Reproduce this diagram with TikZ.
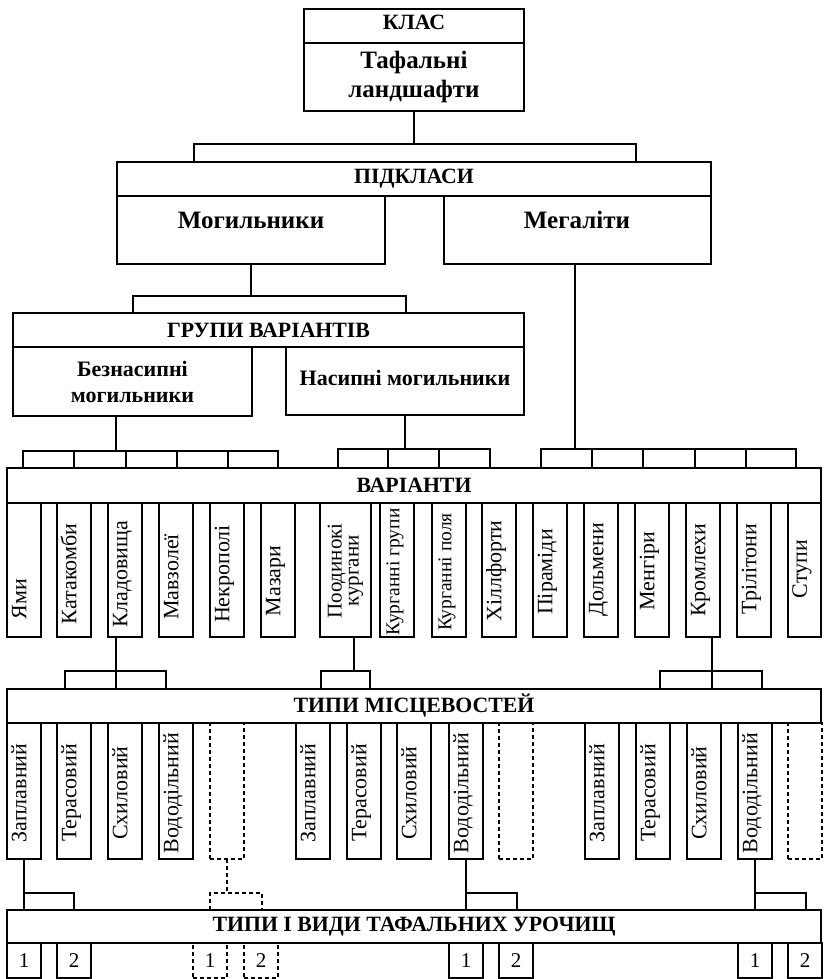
\documentclass[tikz,border=0pt]{standalone}
\usepackage{fontspec}
\setmainfont{Liberation Serif}
\tikzset{
  ln/.style={line width=1.1pt},
  dsh/.style={line width=1.1pt, dash pattern=on 4pt off 3pt},
  bx/.style={draw, line width=1.1pt, rectangle, inner sep=0pt, outer sep=0pt, anchor=north west},
  dbx/.style={bx, dash pattern=on 4pt off 3pt},
  hd/.style={font={\fontsize{21.8}{26}\selectfont\bfseries}},
  big/.style={font={\fontsize{25}{29}\selectfont\bfseries}},
  mid/.style={font={\fontsize{22}{26}\selectfont\bfseries}},
  vt/.style={font={\fontsize{22}{24}\selectfont}, text height=0.7em, text depth=0.25em, inner sep=0pt},
  vts/.style={font={\fontsize{19.5}{17}\selectfont}, text height=0.7em, text depth=0.25em, inner sep=0pt},
  vtt/.style={font={\fontsize{21}{17}\selectfont}, inner sep=0pt, align=center},
  num/.style={font={\fontsize{21}{24}\selectfont}},
}
\newcommand\vbx[6]{%
  \node[bx, minimum width={#3-#2}, minimum height=134] (#1) at (#2,503) {};
  \node[rotate=90, #5] (#1t) at ({(#2+#3)/2},#4) {#6};}
\newcommand\tbx[3]{%
  \node[bx, minimum width=34, minimum height=136] (#1) at (#2,723) {};
  \node[rotate=90, vt] (#1t) at ({#2+17},793) {#3};}
\newcommand\dtbx[2]{%
  \node[dbx, minimum width=34, minimum height=136] (#1) at (#2,723) {};}
\newcommand\nbx[4]{%
  \node[#3, num, minimum width=34, minimum height=35] (#1) at (#2,943) {#4};}
\begin{document}
\begin{tikzpicture}[x=1pt,y=-1pt]
\useasboundingbox (0,0) rectangle (827,979);
% class
\node[bx, hd, text height=14pt, text depth=7pt, minimum width=220, minimum height=34] (klass) at (304,9) {КЛАС};
\node[bx, big, align=center, minimum width=220, minimum height=68] (tafal) at (304,43) {Тафальні\\ландшафти};
% subclasses
\node[bx, hd, minimum width=594, minimum height=34] (pidk) at (117,162) {ПІДКЛАСИ};
\node[bx, minimum width=268, minimum height=68] (mog) at (117,196) {};
\node[big] (mogt) at (251,220) {Могильники};
\node[bx, minimum width=267, minimum height=68] (megal) at (444,196) {};
\node[big] (megalt) at (577,220) {Мегаліти};
% groups
\node[bx, hd, minimum width=511, minimum height=34] (grupy) at (13,313) {ГРУПИ ВАРІАНТІВ};
\node[bx, mid, align=center, minimum width=239, minimum height=69] (bezn) at (13,347) {Безнасипні\\могильники};
\node[bx, minimum width=238, minimum height=68] (nasyp) at (286,347) {};
\node[mid] (nasypt) at (405,378) {Насипні могильники};
% variants
\node[bx, hd, minimum width=814, minimum height=35] (var) at (7,468) {ВАРІАНТИ};
\vbx{v1}{7}{41}{599}{vt}{Ями}
\vbx{v2}{57}{91}{574}{vt}{Катакомби}
\vbx{v3}{108}{142}{574}{vt}{Кладовища}
\vbx{v4}{159}{193}{577}{vt}{Мавзолеї}
\vbx{v5}{210}{244}{574}{vt}{Некрополі}
\vbx{v6}{261}{295}{581}{vt}{Мазари}
\vbx{v7}{320}{371}{571}{vtt}{Поодинокі\\кургани}
\vbx{v8}{380}{414}{572}{vts}{Курганні групи}
\vbx{v9}{432}{466}{572}{vts}{Курганні поля}
\vbx{v10}{482}{516}{571}{vt}{Хіллфорти}
\vbx{v11}{533}{567}{572}{vt}{Піраміди}
\vbx{v12}{584}{618}{570}{vt}{Дольмени}
\vbx{v13}{635}{669}{571}{vt}{Менгіри}
\vbx{v14}{686}{720}{570}{vt}{Кромлехи}
\vbx{v15}{737}{771}{569}{vt}{Трілітони}
\vbx{v16}{788}{821}{569}{vt}{Ступи}
% types of localities
\node[bx, hd, minimum width=814, minimum height=34] (types) at (7,689) {ТИПИ МІСЦЕВОСТЕЙ};
\tbx{t1}{7}{Заплавний}
\tbx{t2}{57}{Терасовий}
\tbx{t3}{108}{Схиловий}
\tbx{t4}{159}{Вододільний}
\dtbx{t5}{210}
\tbx{t6}{296}{Заплавний}
\tbx{t7}{347}{Терасовий}
\tbx{t8}{397}{Схиловий}
\tbx{t9}{449}{Вододільний}
\dtbx{t10}{499}
\tbx{t11}{585}{Заплавний}
\tbx{t12}{636}{Терасовий}
\tbx{t13}{687}{Схиловий}
\tbx{t14}{738}{Вододільний}
\dtbx{t15}{788}
% bottom
\node[bx, hd, minimum width=814, minimum height=33] (bot) at (7,910) {ТИПИ І ВИДИ ТАФАЛЬНИХ УРОЧИЩ};
\nbx{n1}{7}{bx}{1}
\nbx{n2}{57}{bx}{2}
\nbx{n3}{193}{dbx}{1}
\nbx{n4}{244}{dbx}{2}
\nbx{n5}{449}{bx}{1}
\nbx{n6}{499}{bx}{2}
\nbx{n7}{738}{bx}{1}
\nbx{n8}{788}{bx}{2}
% connectors: class -> subclasses
\draw[ln] (tafal.south) -- (414,144) coordinate (j1);
\draw[ln] (194,0 |- pidk.north) |- (j1) -| (636,0 |- pidk.north);
% mogylnyky -> groups
\draw[ln] (mog.south) -- (251,296) coordinate (j2);
\draw[ln] (133,0 |- grupy.north) |- (j2) -| (406,0 |- grupy.north);
% groups -> variants
\draw[ln] (bezn.south -| 116,0) -- (116,451) coordinate (j3);
\draw[ln] (23,0 |- var.north) |- (j3) -| (278,0 |- var.north);
\foreach \x in {74,126,177,228} \draw[ln] (\x,451) -- (\x,0 |- var.north);
\draw[ln] (nasyp.south -| 405,0) -- (405,449) coordinate (j4);
\draw[ln] (338,0 |- var.north) |- (j4) -| (490,0 |- var.north);
\foreach \x in {388,439} \draw[ln] (\x,449) -- (\x,0 |- var.north);
\draw[ln] (megal.south -| 575,0) -- (575,449) coordinate (j5);
\draw[ln] (541,0 |- var.north) |- (j5) -| (796,0 |- var.north);
\foreach \x in {592,643,695,746} \draw[ln] (\x,449) -- (\x,0 |- var.north);
% variants -> types of localities
\draw[ln] (v3.south -| 116,0) -- (116,0 |- types.north);
\draw[ln] (65,0 |- types.north) |- (166,671) -- (166,0 |- types.north);
\draw[ln] (v7.south -| 354,0) -- (354,671) coordinate (j6);
\draw[ln] (321,0 |- types.north) |- (j6) -| (370,0 |- types.north);
\draw[ln] (v14.south -| 712,0) -- (712,0 |- types.north);
\draw[ln] (660,0 |- types.north) |- (762,671) -- (762,0 |- types.north);
% types -> tracts
\draw[ln] (t1.south) -- (t1.south |- bot.north);
\draw[ln] (24,893) -| (74,0 |- bot.north);
\draw[dsh] (t5.south) -- (227,893) coordinate (j7);
\draw[dsh] (210,0 |- bot.north) |- (j7) -| (262,0 |- bot.north);
\draw[ln] (t9.south) -- (t9.south |- bot.north);
\draw[ln] (466,893) -| (517,0 |- bot.north);
\draw[ln] (t14.south) -- (t14.south |- bot.north);
\draw[ln] (755,893) -| (806,0 |- bot.north);
\end{tikzpicture}
\end{document}
